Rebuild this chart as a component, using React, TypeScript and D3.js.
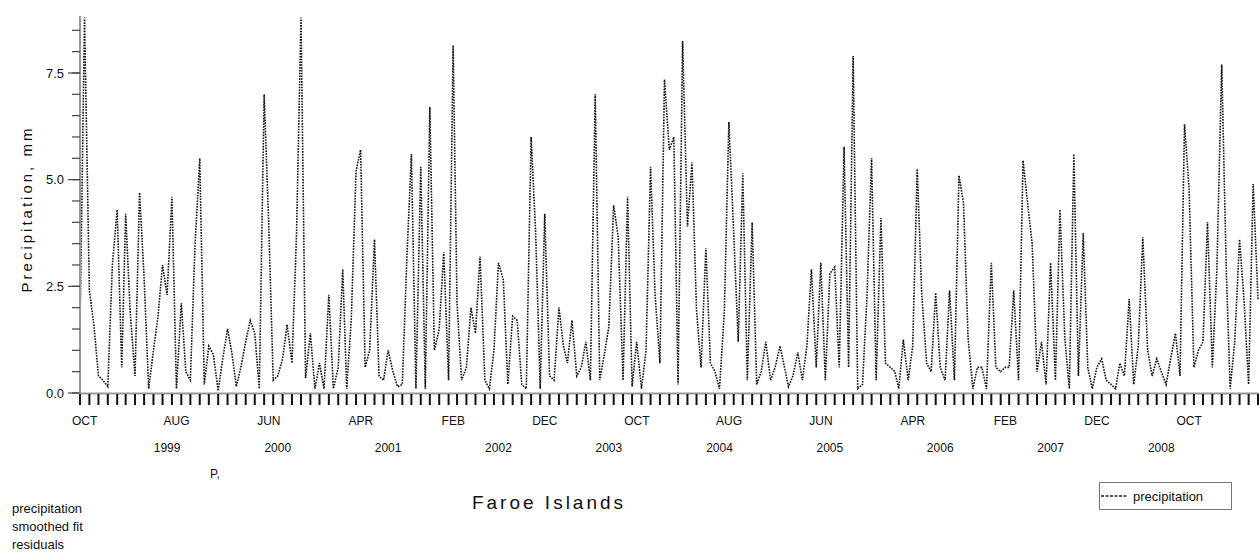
import React from "react";
import * as d3 from "d3";

// Semi-monthly values (1st and 16th of each month), starting 1 Oct 1998
const rainfall: number[] = [
  1.5, 8.8, 2.4, 1.6, 0.4, 0.3, 0.15, 3.0, 4.3, 0.6,
  4.2, 1.9, 0.4, 4.7, 2.7, 0.1, 1.0, 1.8, 3.0, 2.3,
  4.6, 0.1, 2.1, 0.5, 0.3, 3.4, 5.5, 0.2, 1.1, 0.9,
  0.05, 0.8, 1.5, 0.9, 0.15, 0.6, 1.2, 1.7, 1.4, 0.1,
  7.0, 4.0, 0.3, 0.4, 0.8, 1.6, 0.7, 3.7, 8.8, 0.35,
  1.4, 0.1, 0.7, 0.1, 2.3, 0.1, 0.6, 2.9, 0.1, 1.7,
  5.2, 5.7, 0.6, 1.0, 3.6, 0.4, 0.3, 1.0, 0.5, 0.15,
  0.2, 3.15, 5.6, 0.1, 5.3, 0.1, 6.7, 1.0, 1.5, 3.3,
  0.3, 8.15, 2.1, 0.3, 0.6, 2.0, 1.4, 3.2, 0.3, 0.1,
  1.0, 3.05, 2.65, 0.2, 1.8, 1.7, 0.2, 0.1, 6.0, 3.75,
  0.1, 4.2, 0.4, 0.3, 2.0, 1.1, 0.7, 1.7, 0.4, 0.6,
  1.2, 0.3, 7.0, 0.3, 0.9, 1.55, 4.4, 3.65, 0.3, 4.6,
  0.15, 1.2, 0.1, 1.0, 5.3, 2.3, 0.7, 7.35, 5.7, 6.0,
  0.2, 8.25, 3.9, 5.4, 1.95, 0.6, 3.4, 0.7, 0.5, 0.1,
  1.9, 6.35, 3.75, 1.2, 5.15, 0.3, 4.0, 0.2, 0.5, 1.2,
  0.3, 0.6, 1.1, 0.6, 0.15, 0.4, 0.95, 0.3, 1.1, 2.9,
  0.6, 3.05, 0.3, 2.8, 2.95, 0.6, 5.77, 0.6, 7.9, 0.1,
  0.2, 2.3, 5.5, 0.3, 4.1, 0.7, 0.6, 0.5, 0.1, 1.25,
  0.3, 1.1, 5.25, 2.3, 0.7, 0.5, 2.35, 0.6, 0.3, 2.4,
  0.3, 5.1, 4.45, 1.3, 0.1, 0.6, 0.6, 0.1, 3.05, 0.6,
  0.5, 0.6, 0.6, 2.4, 0.3, 5.45, 4.45, 3.5, 0.5, 1.2,
  0.2, 3.05, 0.3, 4.3, 1.3, 0.1, 5.6, 0.4, 3.75, 0.6,
  0.1, 0.6, 0.8, 0.3, 0.2, 0.1, 0.7, 0.4, 2.2, 0.2,
  1.1, 3.65, 1.0, 0.4, 0.8, 0.5, 0.2, 0.8, 1.4, 0.4,
  6.3, 4.8, 0.6, 1.0, 1.2, 4.0, 0.6, 2.9, 7.7, 2.9,
  0.1, 1.2, 3.6, 2.15, 0.2, 4.9, 2.2,
];

const monthLabels: string[] = ["OCT", "AUG", "JUN", "APR", "FEB", "DEC", "OCT", "AUG", "JUN", "APR", "FEB", "DEC", "OCT"];
const yearLabels: string[] = ["1999", "2000", "2001", "2002", "2003", "2004", "2005", "2006", "2007", "2008"];
const yMajorTicks: number[] = [0, 2.5, 5, 7.5];
const yTickLabels: string[] = ["0.0", "2.5", "5.0", "7.5"];
const seriesName = "precipitation";
const footnotes: string[] = ["precipitation", "smoothed fit", "residuals"];

const W = 1259;
const H = 553;
const FONT = "'Liberation Sans', Arial, sans-serif";

export default function App() {
  const start = new Date(1998, 9, 1);
  const end = new Date(2009, 5, 1);
  const dates = rainfall.map((_, j) => new Date(1998, 9 + Math.floor(j / 2), j % 2 ? 16 : 1));
  const x = d3.scaleTime().domain([start, end]).range([80, 1258]);
  const y = d3.scaleLinear().domain([0, 8.835]).range([393, 16]);

  const line = d3
    .line<number>()
    .x((_, i) => x(dates[i]))
    .y((d) => y(d))
    .curve(d3.curveLinear);

  const monthTicks = d3.timeMonth.range(start, new Date(2009, 5, 2));
  const minorY = d3.range(0, 8.51, 0.5);
  const halfMonth = (x(new Date(1998, 10, 1)) - x(start)) / 2;

  return (
    <svg
      width={W}
      height={H}
      style={{ position: "absolute", left: 0, top: 0, background: "#fff" }}
      fontFamily={FONT}
    >
      {/* data line */}
      <path d={line(rainfall) || ""} fill="none" stroke="#111" strokeWidth={1.6} strokeDasharray="1.6 1.2" />

      {/* y axis */}
      <line x1={80} x2={80} y1={16} y2={394} stroke="#999" strokeWidth={2} />
      {minorY.map((v) => (
        <line key={"ym" + v} x1={72} x2={80} y1={y(v)} y2={y(v)} stroke="#444" strokeWidth={1.2} />
      ))}
      {yMajorTicks.map((v, i) => (
        <g key={"yM" + v}>
          <line x1={68} x2={80} y1={y(v)} y2={y(v)} stroke="#444" strokeWidth={1.2} />
          <text x={64} y={y(v)} dy="0.35em" textAnchor="end" fontSize={13} fill="#111">
            {yTickLabels[i]}
          </text>
        </g>
      ))}
      <text
        transform={`translate(32,209) rotate(-90)`}
        textAnchor="middle"
        fontSize={15}
        letterSpacing={3}
        fill="#111"
      >
        Precipitation, mm
      </text>

      {/* x axis */}
      <line x1={79} x2={1259} y1={393.5} y2={393.5} stroke="#999" strokeWidth={2} />
      {monthTicks.map((d, i) => (
        <line key={"xt" + i} x1={x(d)} x2={x(d)} y1={394} y2={405} stroke="#111" strokeWidth={2} />
      ))}
      {monthLabels.map((lab, i) => (
        <text
          key={"ml" + i}
          x={x(monthTicks[i * 10]) + halfMonth}
          y={425}
          textAnchor="middle"
          fontSize={12}
          fill="#111"
        >
          {lab}
        </text>
      ))}
      {yearLabels.map((lab) => (
        <text
          key={"yl" + lab}
          x={x(new Date(+lab, 6, 16))}
          y={452}
          textAnchor="middle"
          fontSize={12}
          fill="#111"
        >
          {lab}
        </text>
      ))}
      <text x={210} y={478} fontSize={12} fill="#111">
        P,
      </text>
      <text x={549} y={509} textAnchor="middle" fontSize={19} letterSpacing={3} fill="#111">
        Faroe Islands
      </text>

      {/* legend */}
      <rect x={1099.5} y={482.5} width={132} height={27} fill="#fff" stroke="#777" strokeWidth={1} />
      <line x1={1101} x2={1128} y1={496} y2={496} stroke="#222" strokeWidth={1.6} strokeDasharray="3 1.5" />
      <text x={1133} y={501} fontSize={13} fill="#111">
        {seriesName}
      </text>

      {/* footnotes */}
      {footnotes.map((t, i) => (
        <text key={"fn" + i} x={12} y={513 + i * 18} fontSize={13} fill="#111">
          {t}
        </text>
      ))}
    </svg>
  );
}
